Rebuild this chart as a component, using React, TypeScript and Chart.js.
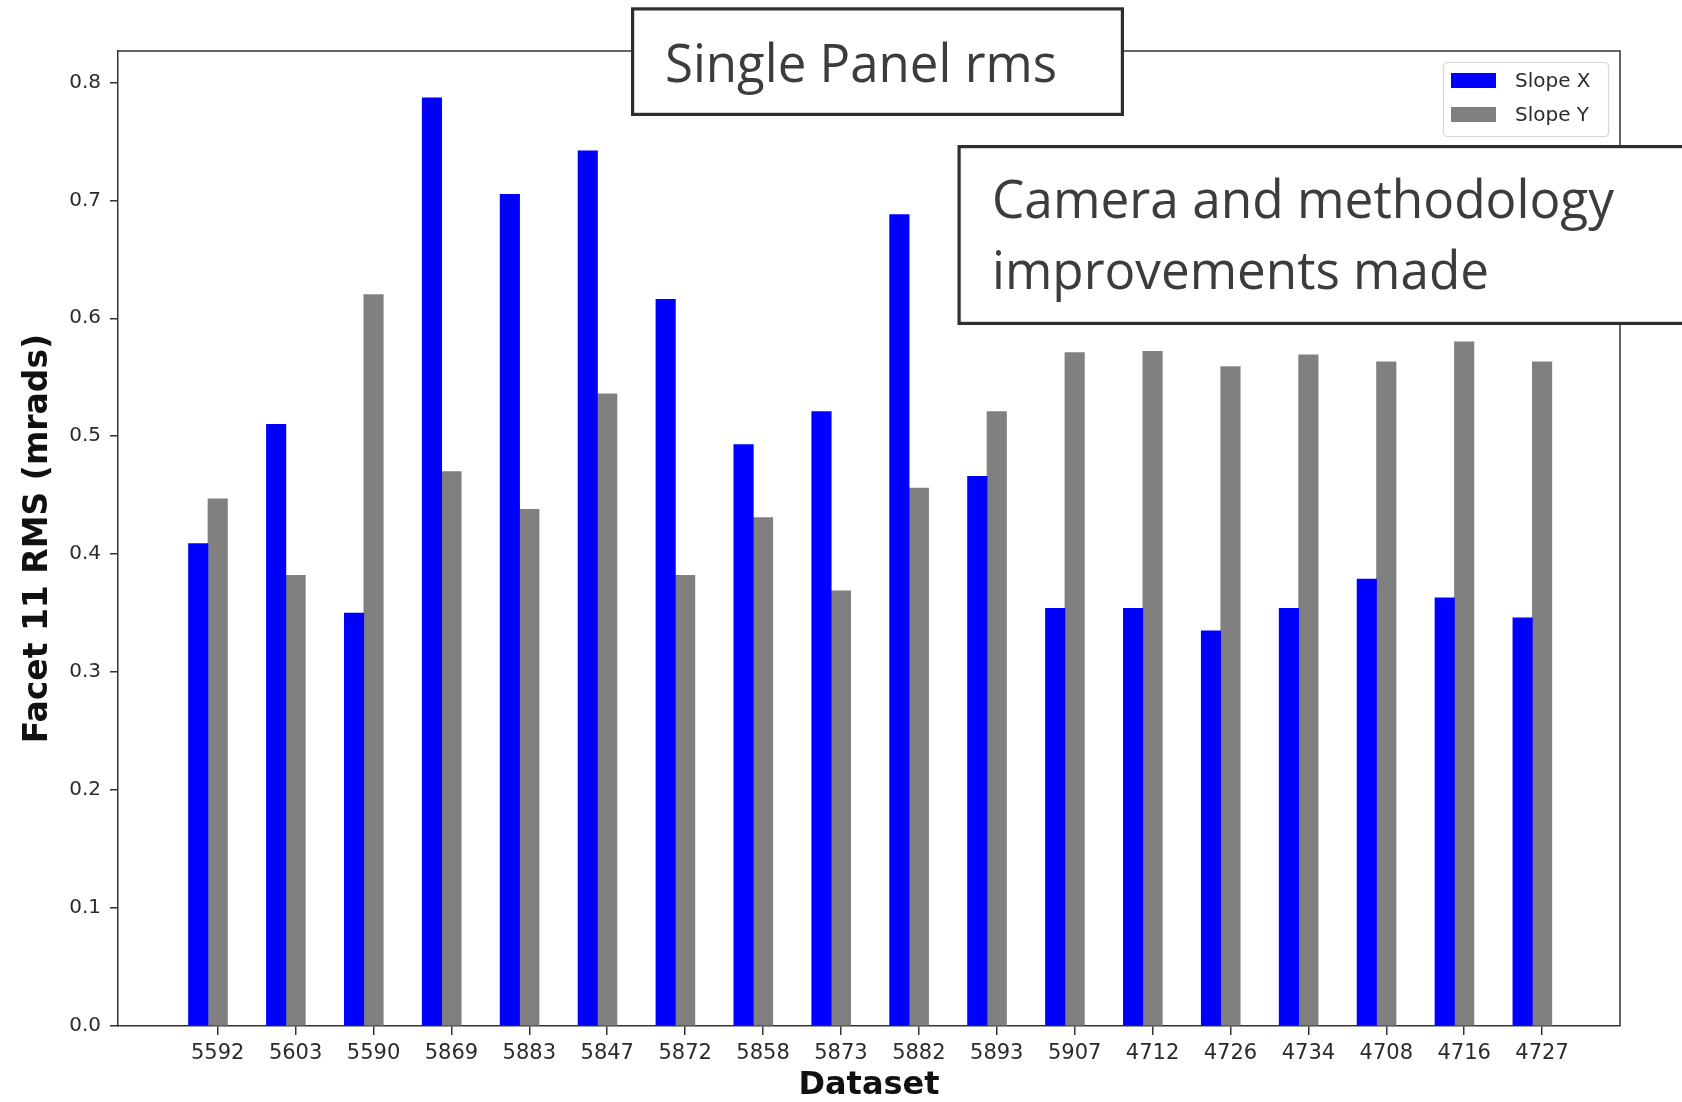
import React, { useEffect, useRef } from "react";
import { Chart, registerables } from "chart.js";

Chart.register(...registerables);

// ---------- data ----------
const categories = [
  "5592", "5603", "5590", "5869", "5883", "5847", "5872", "5858", "5873",
  "5882", "5893", "5907", "4712", "4726", "4734", "4708", "4716", "4727",
];
const slopeX = [
  0.409, 0.510, 0.350, 0.787, 0.705, 0.742, 0.616, 0.493, 0.521,
  0.688, 0.466, 0.354, 0.354, 0.335, 0.354, 0.379, 0.363, 0.346,
];
const slopeY = [
  0.447, 0.382, 0.620, 0.470, 0.438, 0.536, 0.382, 0.431, 0.369,
  0.456, 0.521, 0.571, 0.572, 0.559, 0.569, 0.563, 0.580, 0.563,
];
const yTickValues = [0.0, 0.1, 0.2, 0.3, 0.4, 0.5, 0.6, 0.7, 0.8];
const seriesNames = ["Slope X", "Slope Y"];
const xTitle = "Dataset";
const yTitle = "Facet 11 RMS (mrads)";
const boxTexts = [["Single Panel rms"], ["Camera and methodology", "improvements made"]];

// ---------- style ----------
const W = 1682;
const H = 1102;
const seriesColors = ["#0000ff", "#808080"];
const BAR_W = 0.25; // bar width in category units
const AXIS = "#333333";
const TXT = "#2b2b2b";

const overlayPlugin = {
  id: "overlay",
  afterDraw(chart: any) {
    const { ctx, chartArea: a } = chart;
    ctx.save();
    // top / right spines
    ctx.strokeStyle = AXIS;
    ctx.lineWidth = 1.5;
    ctx.beginPath();
    ctx.moveTo(a.left, a.top);
    ctx.lineTo(a.right, a.top);
    ctx.lineTo(a.right, a.bottom);
    ctx.stroke();

    // legend (matplotlib style)
    const lx = 1443.5, ly = 62.5, lw = 165, lh = 74;
    ctx.beginPath();
    if ((ctx as any).roundRect) (ctx as any).roundRect(lx, ly, lw, lh, 4);
    else ctx.rect(lx, ly, lw, lh);
    ctx.fillStyle = "rgba(255,255,255,0.8)";
    ctx.fill();
    ctx.strokeStyle = "#d6d6d6";
    ctx.lineWidth = 1.2;
    ctx.stroke();
    chart.data.datasets.forEach((ds: any, i: number) => {
      const cy = 80.5 + i * 34;
      ctx.fillStyle = ds.backgroundColor;
      ctx.fillRect(1451, cy - 7.5, 45, 15);
      ctx.fillStyle = TXT;
      ctx.font = "20px 'DejaVu Sans'";
      ctx.textBaseline = "middle";
      ctx.textAlign = "left";
      ctx.fillText(ds.label, 1515, cy + 1, 83);
    });

    // annotation boxes
    const drawBox = (x: number, y: number, w: number, h: number) => {
      ctx.fillStyle = "#ffffff";
      ctx.fillRect(x, y, w, h);
      ctx.strokeStyle = "#2e2e2e";
      ctx.lineWidth = 3.2;
      ctx.strokeRect(x, y, w, h);
    };
    ctx.textAlign = "left";
    ctx.textBaseline = "alphabetic";
    ctx.font = "53px 'Open Sans'";
    drawBox(632.6, 8.9, 489.8, 105.5);
    ctx.fillStyle = "#3c3c3c";
    ctx.fillText(boxTexts[0][0], 665, 81.5, 392);

    drawBox(959.1, 146.6, 800, 176.8);
    ctx.fillStyle = "#3c3c3c";
    ctx.fillText(boxTexts[1][0], 992, 218, 622);
    ctx.fillText(boxTexts[1][1], 992, 289, 497);
    ctx.restore();
  },
};

export default function App() {
  const ref = useRef<HTMLCanvasElement | null>(null);
  useEffect(() => {
    if (!ref.current) return;
    Chart.defaults.font.family = "'DejaVu Sans'";
    const chart = new Chart(ref.current, {
      type: "bar",
      data: {
        datasets: [
          {
            label: seriesNames[0],
            data: categories.map((_, i) => ({ x: i - BAR_W, y: slopeX[i] })),
            backgroundColor: seriesColors[0],
            borderWidth: 0,
            grouped: false,
            barPercentage: 1,
            categoryPercentage: 1,
          },
          {
            label: seriesNames[1],
            data: categories.map((_, i) => ({ x: i, y: slopeY[i] })),
            backgroundColor: seriesColors[1],
            borderWidth: 0,
            grouped: false,
            barPercentage: 1,
            categoryPercentage: 1,
          },
        ],
      },
      options: {
        responsive: false,
        animation: false,
        devicePixelRatio: 1,
        layout: { padding: { top: 51, right: 62, left: 0, bottom: 0 } },
        plugins: {
          legend: { display: false },
          tooltip: { enabled: false },
          title: { display: false },
        },
        scales: {
          x: {
            type: "linear",
            offset: false,
            min: -1.28,
            max: 18.0,
            afterBuildTicks: (s: any) => {
              s.ticks = categories.map((_, i) => ({ value: i }));
            },
            afterFit: (s: any) => {
              s.height = 76;
            },
            ticks: {
              autoSkip: false,
              maxRotation: 0,
              minRotation: 0,
              padding: 6,
              color: TXT,
              font: { size: 21 },
              callback: (v: any) => categories[Math.round(Number(v))] ?? "",
            },
            grid: {
              display: true,
              offset: false,
              drawOnChartArea: false,
              drawTicks: true,
              tickLength: 9,
              color: AXIS,
              lineWidth: 1.5,
            },
            border: { display: true, color: AXIS, width: 1.5 },
            title: {
              display: true,
              text: xTitle,
              color: "#111111",
              font: { size: 32, weight: "bold", lineHeight: 1 },
              padding: { top: 0, bottom: 0 },
            },
          },
          y: {
            type: "linear",
            min: 0,
            max: 0.8266,
            afterBuildTicks: (s: any) => {
              s.ticks = yTickValues.map((v) => ({ value: v }));
            },
            afterFit: (s: any) => {
              s.width = 118;
            },
            ticks: {
              padding: 9,
              color: TXT,
              font: { size: 20 },
              callback: (v: any) => Number(v).toFixed(1),
            },
            grid: {
              display: true,
              drawOnChartArea: false,
              drawTicks: true,
              tickLength: 8,
              color: AXIS,
              lineWidth: 1.5,
            },
            border: { display: true, color: AXIS, width: 1.5 },
            title: {
              display: true,
              text: yTitle,
              color: "#111111",
              font: { size: 33, weight: "bold", lineHeight: 1.2 },
              padding: { top: 19, bottom: 0 },
            },
          },
        },
      },
      plugins: [overlayPlugin],
    });
    return () => chart.destroy();
  }, []);
  return (
    <div style={{ position: "fixed", left: 0, top: 0, width: W, height: H, background: "#fff" }}>
      <canvas ref={ref} width={W} height={H} style={{ display: "block", width: W, height: H }} />
    </div>
  );
}
